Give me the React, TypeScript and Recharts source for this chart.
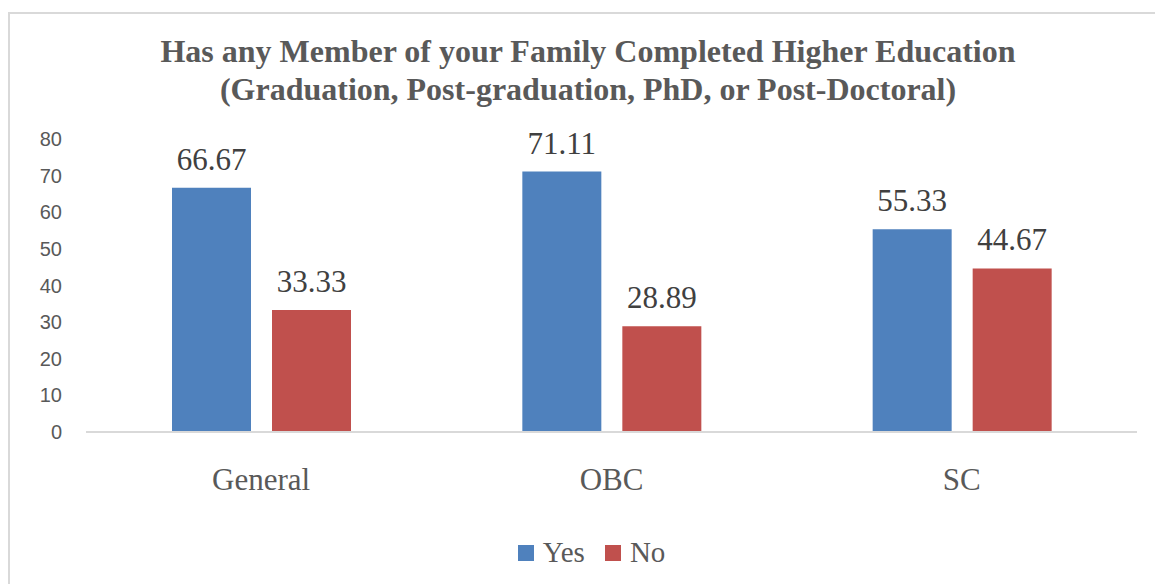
import { BarChart, Bar, XAxis, YAxis, Legend, LabelList } from "recharts";

const categories = ["General", "OBC", "SC"];
const yesValues = [66.67, 71.11, 55.33];
const noValues = [33.33, 28.89, 44.67];
const yTicks = [0, 10, 20, 30, 40, 50, 60, 70, 80];

const data = categories.map((name, i) => ({
  name,
  yes: yesValues[i],
  no: noValues[i],
}));

const serif = '"Liberation Serif", "Times New Roman", serif';
const sans = '"Liberation Sans", Arial, sans-serif';

function LegendBox() {
  const items = [
    { label: "Yes", color: "#4f81bd" },
    { label: "No", color: "#c0504d" },
  ];
  return (
    <div
      style={{
        display: "flex",
        justifyContent: "center",
        alignItems: "center",
        height: 40,
        paddingLeft: 30,
        fontFamily: serif,
        fontSize: 29,
        color: "#595959",
        lineHeight: "40px",
      }}
    >
      {items.map((it) => (
        <div key={it.label} style={{ display: "flex", alignItems: "center", marginRight: 20 }}>
          <span style={{ width: 16, height: 16, background: it.color, marginRight: 9, marginTop: 2 }} />
          <span>{it.label}</span>
        </div>
      ))}
    </div>
  );
}

export default function App() {
  return (
    <div style={{ position: "absolute", left: 0, top: 0, width: 1155, height: 584, background: "#fff" }}>
      <div
        style={{
          position: "absolute",
          left: 8,
          top: 12,
          right: 0,
          bottom: 0,
          borderLeft: "2px solid #d9d9d9",
          borderTop: "2px solid #d9d9d9",
        }}
      />
      <div
        style={{
          position: "absolute",
          left: 0,
          top: 32,
          width: 1176,
          textAlign: "center",
          fontFamily: serif,
          fontWeight: "bold",
          fontSize: 32,
          lineHeight: "38px",
          color: "#595959",
        }}
      >
        Has any Member of your Family Completed Higher Education
        <br />
        (Graduation, Post-graduation, PhD, or Post-Doctoral)
      </div>
      <div style={{ position: "absolute", left: 0, top: 0 }}>
        <BarChart
          width={1155}
          height={584}
          data={data}
          margin={{ top: 139, right: 18, bottom: 12, left: 36 }}
          barGap={21}
        >
          <XAxis
            dataKey="name"
            height={100}
            tickLine={false}
            axisLine={{ stroke: "#d9d9d9", strokeWidth: 2 }}
            tickMargin={30}
            tick={{ fontFamily: serif, fontSize: 31, fill: "#595959" }}
          />
          <YAxis
            width={50}
            domain={[0, 80]}
            ticks={yTicks}
            axisLine={false}
            tickLine={false}
            tickMargin={18}
            tick={{ fontFamily: sans, fontSize: 20, fill: "#595959" }}
          />
          <Legend verticalAlign="bottom" content={() => <LegendBox />} />
          <Bar dataKey="yes" name="Yes" fill="#4f81bd" barSize={79} isAnimationActive={false}>
            <LabelList
              dataKey="yes"
              position="top"
              offset={18}
              style={{ fontFamily: serif, fontSize: 31, fill: "#404040" }}
            />
          </Bar>
          <Bar dataKey="no" name="No" fill="#c0504d" barSize={79} isAnimationActive={false}>
            <LabelList
              dataKey="no"
              position="top"
              offset={18}
              style={{ fontFamily: serif, fontSize: 31, fill: "#404040" }}
            />
          </Bar>
        </BarChart>
      </div>
    </div>
  );
}
